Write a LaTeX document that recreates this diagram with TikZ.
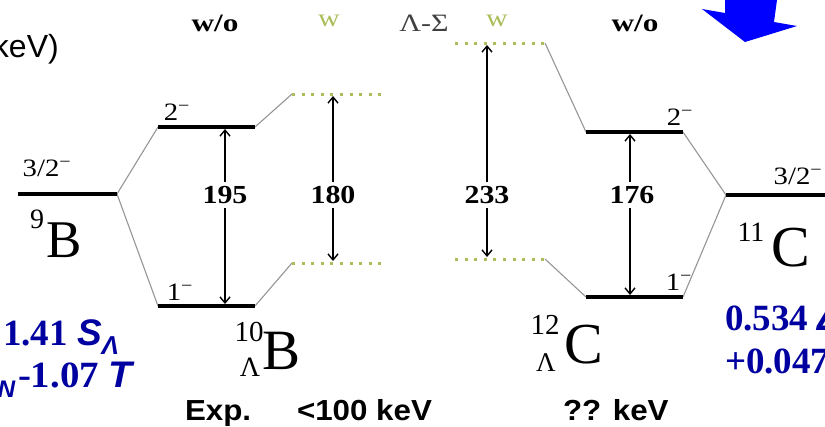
\documentclass[tikz,border=0pt]{standalone}
\usepackage{fontspec}
\setmainfont{Liberation Serif}
\newfontfamily\arialf{Liberation Sans}
\usetikzlibrary{arrows.meta}
\newcommand\fsz[1]{\fontsize{#1}{#1}\selectfont}
\newcommand\wid[2]{\scalebox{#1}[1]{#2}}
\definecolor{wgreen}{RGB}{170,190,90}
\definecolor{dblue}{RGB}{0,0,160}
\definecolor{lgray}{RGB}{150,150,150}
\tikzset{
  lvl/.style={line width=4.5pt, black},
  wlvl/.style={line width=3pt, wgreen, dash pattern=on 3pt off 6.6pt},
  conn/.style={line width=1.1pt, lgray},
  arr/.style={line width=1.4pt, {Straight Barb[length=6pt,width=10pt]}-{Straight Barb[length=6pt,width=10pt]}, shorten <=2pt, shorten >=2pt},
  txt/.style={inner sep=0pt, outer sep=0pt},
  num/.style={txt, fill=white, inner ysep=4pt, inner xsep=1pt, font=\fsz{26}\bfseries},
  jp/.style={txt, font=\fsz{25}},
  hd/.style={txt, font=\fsz{25}\bfseries},
  bt/.style={txt, anchor=base west, font=\arialf\fsz{29}\bfseries},
  bl/.style={txt, anchor=base west, text=dblue, font=\fsz{37}\bfseries},
}
\newcommand\bsi{\arialf\bfseries\itshape}
\begin{document}
\begin{tikzpicture}[x=1pt,y=-1pt]
\useasboundingbox (0,0) rectangle (825,426);
\clip (0,0) rectangle (825,426);
\fill[white] (0,0) rectangle (825,426);

% ---- coordinates of level ends
\coordinate (B9l) at (18,194);   \coordinate (B9r) at (117,194);
\coordinate (L2l) at (158,127);  \coordinate (L2r) at (255,127);
\coordinate (L1l) at (158,306);  \coordinate (L1r) at (255,306);
\coordinate (LWul) at (292,94);  \coordinate (LWur) at (384,94);
\coordinate (LWdl) at (292,263); \coordinate (LWdr) at (384,263);
\coordinate (RWul) at (455,43);  \coordinate (RWur) at (545,43);
\coordinate (RWdl) at (455,259); \coordinate (RWdr) at (545,259);
\coordinate (R2l) at (586,132);  \coordinate (R2r) at (683,132);
\coordinate (R1l) at (586,297);  \coordinate (R1r) at (683,297);
\coordinate (C11l) at (726,195); \coordinate (C11r) at (835,195);

% ---- connectors
\draw[conn] (B9r) -- (L2l);
\draw[conn] (B9r) -- (L1l);
\draw[conn] (L2r) -- (LWul);
\draw[conn] (L1r) -- (LWdl);
\draw[conn] (RWur) -- (R2l);
\draw[conn] (RWdr) -- (R1l);
\draw[conn] (R2r) -- (C11l);
\draw[conn] (R1r) -- (C11l);

% ---- levels
\draw[lvl] (B9l) -- (B9r);
\draw[lvl] (L2l) -- (L2r);
\draw[lvl] (L1l) -- (L1r);
\draw[lvl] (R2l) -- (R2r);
\draw[lvl] (R1l) -- (R1r);
\draw[lvl] (C11l) -- (C11r);
\draw[wlvl] (LWul) -- (LWur);
\draw[wlvl] (LWdl) -- (LWdr);
\draw[wlvl] (RWul) -- (RWur);
\draw[wlvl] (RWdl) -- (RWdr);

% ---- splitting arrows
\coordinate (a1t) at (225,127); \coordinate (a1b) at (225,306);
\coordinate (a2t) at (333,94);  \coordinate (a2b) at (333,263);
\coordinate (a3t) at (487,43);  \coordinate (a3b) at (487,259);
\coordinate (a4t) at (630,132); \coordinate (a4b) at (630,297);
\draw[arr] (a1t) -- (a1b);
\draw[arr] (a2t) -- (a2b);
\draw[arr] (a3t) -- (a3b);
\draw[arr] (a4t) -- (a4b);
\node[num] (n195) at (225,195) {\wid{1.15}{195}};
\node[num] (n180) at (333,195) {\wid{1.15}{180}};
\node[num] (n233) at (487,195) {\wid{1.15}{233}};
\node[num] (n176) at (632,195) {\wid{1.15}{176}};

% ---- level labels
\node[jp] (j9) at (47,168) {\wid{1.15}{3/2\textsuperscript{−}}};
\node[jp] (jl2) at (177,112) {\wid{1.15}{2\textsuperscript{−}}};
\node[jp] (jl1) at (180,292) {\wid{1.15}{1\textsuperscript{−}}};
\node[jp] (jr2) at (680,117) {\wid{1.15}{2\textsuperscript{−}}};
\node[jp] (jr1) at (679,282) {\wid{1.15}{1\textsuperscript{−}}};
\node[jp] (j11) at (798,176) {\wid{1.15}{3/2\textsuperscript{−}}};

% ---- nuclide labels
\node[txt, font=\fsz{28}] (b9a) at (37,219) {9};
\node[txt, font=\fsz{53}] (b9b) at (64,240) {B};
\node[txt, font=\fsz{29}] (b10a) at (249,332) {10};
\node[txt, font=\fsz{28}] (b10l) at (250,367) {Λ};
\node[txt, font=\fsz{57}] (b10b) at (282,351) {B};
\node[txt, font=\fsz{29}] (c12a) at (545,325) {12};
\node[txt, font=\fsz{27}] (c12l) at (546,363) {Λ};
\node[txt, font=\fsz{58}] (c12b) at (584,345) {C};
\node[txt, font=\fsz{28}] (c11a) at (751,232) {11};
\node[txt, font=\fsz{58}] (c11b) at (791,248) {C};

% ---- column headers
\node[hd] (h1) at (215,23) {\wid{1.25}{w/o}};
\node[txt, font=\fsz{25}, text=wgreen] (h2) at (329,21) {\wid{1.2}{w}};
\node[txt, font=\fsz{25}, text=black!75] (h3) at (424,23) {\wid{1.2}{Λ-Σ}};
\node[txt, font=\fsz{25}, text=wgreen] (h4) at (497,21) {\wid{1.2}{w}};
\node[hd] (h5) at (635,23) {\wid{1.25}{w/o}};

% ---- top-left unit
\node[txt, anchor=base west, font=\arialf\fsz{32}] (unit) at (-7,57) {keV)};

% ---- blue arrow
\fill[blue] (725,0) -- (777,0) -- (774,22) -- (797,26) -- (745,42) -- (702,9) -- (725,13) -- cycle;

% ---- blue formulas
\node[bl] (f1) at (3,345) {1.41 {\bsi S\textsubscript{Λ}}};
\node[bl] (f2) at (18,387) {\wid{1.05}{-1.07 {\bsi T}}};
\node[txt, anchor=base west, text=dblue, font=\bsi\fsz{24}] (f0) at (-2,397) {N};
\node[bl] (f3) at (725,330) {0.534 {\bsi Δ}};
\node[bl] (f4) at (725,373) {+0.047};

% ---- bottom labels
\node[bt] (e1) at (185,420) {\wid{1.08}{Exp.}};
\node[bt] (e2) at (297,420) {\wid{1.08}{<100 keV}};
\node[bt] (e3) at (563,420) {\wid{1.08}{?? keV}};
\end{tikzpicture}
\end{document}
